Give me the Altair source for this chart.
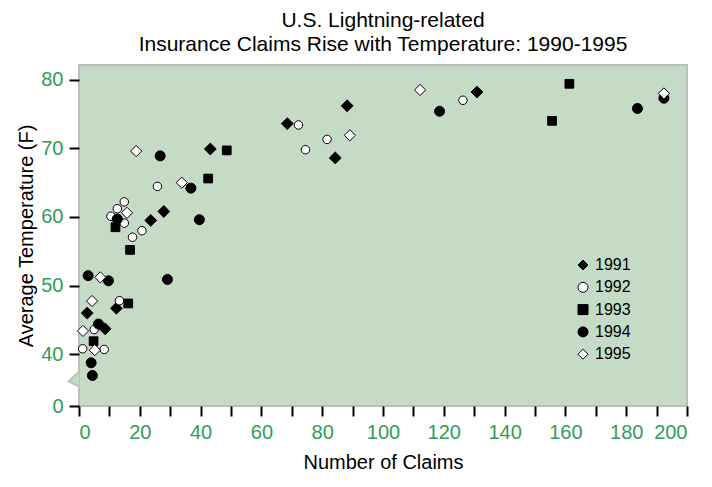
import altair as alt
import pandas as pd

# ---- data ----
years = ["1991", "1992", "1993", "1994", "1995"]

claims_1991 = [2.7, 8.6, 12.3, 23.6, 27.9, 43.2, 68.5, 84.3, 88.2, 130.9]
temp_1991 = [46.0, 43.7, 46.7, 59.5, 60.8, 69.9, 73.6, 68.6, 76.2, 78.2]

claims_1992 = [1.2, 5.0, 8.3, 13.3, 17.6, 20.7, 14.9, 10.5, 12.6, 14.9, 25.8, 72.2, 74.5, 81.6, 126.3]
temp_1992 = [40.8, 43.6, 40.7, 47.8, 57.05, 58.0, 59.1, 60.1, 61.2, 62.2, 64.45, 73.4, 69.8, 71.3, 77.0]

claims_1993 = [4.8, 16.2, 16.8, 12.0, 42.5, 48.6, 155.6, 161.3]
temp_1993 = [41.9, 47.4, 55.2, 58.5, 65.6, 69.7, 74.0, 79.4]

claims_1994 = [4.4, 4.0, 6.4, 3.0, 9.7, 29.1, 12.6, 39.6, 36.8, 26.7, 118.6, 183.7, 192.4]
temp_1994 = [36.9, 38.75, 44.4, 51.45, 50.7, 50.9, 59.7, 59.6, 64.2, 68.9, 75.4, 75.8, 77.3]

claims_1995 = [1.3, 5.2, 4.3, 7.0, 15.8, 33.8, 18.8, 89.1, 112.2, 192.4]
temp_1995 = [43.4, 40.6, 47.75, 51.2, 60.6, 65.0, 69.6, 71.9, 78.5, 78.0]

x_ticks = list(range(0, 201, 10))
y_ticks = [0, 40, 50, 60, 70, 80]

series = {
    "1991": (claims_1991, temp_1991),
    "1992": (claims_1992, temp_1992),
    "1993": (claims_1993, temp_1993),
    "1994": (claims_1994, temp_1994),
    "1995": (claims_1995, temp_1995),
}
rows = []
for yr in years:
    cx, ty = series[yr]
    for a, b in zip(cx, ty):
        rows.append({"Year": yr, "Claims": a, "Temp": b})
df = pd.DataFrame(rows)

# marker styling per year (style, not data)
shape_range = ["diamond", "circle", "square", "circle", "diamond"]
fill_range = ["black", "white", "black", "black", "white"]
stroke_range = ["black", "black", "black", "black", "black"]
marker_size = {"1991": 140, "1992": 72, "1993": 76, "1994": 100, "1995": 125}

GREEN_TXT = "#2e9d58"
BG = "#c5dbc6"
BORDER = "#bdbdbd"
FONT = "Liberation Sans"

W, H = 608, 341
PAD_L, PAD_T = 71, 57
PAD_R = 696 - PAD_L - W
PAD_B = 464 - PAD_T - H

x_enc = alt.X(
    "Claims:Q",
    scale=alt.Scale(domain=[0, 200], nice=False, zero=False),
    axis=alt.Axis(
        title="Number of Claims",
        values=x_ticks,
        labelExpr="datum.value % 20 == 0 ? datum.label : ''",
        labelOverlap=False,
        titleY=62,
        titleBaseline="alphabetic",
    ),
)
y_enc = alt.Y(
    "Temp:Q",
    scale=alt.Scale(domain=[0, 36, 82.14], range=[H, H * 0.9287, 0], nice=False, zero=False),
    axis=alt.Axis(
        title="Average Temperature (F)",
        values=y_ticks,
        labelOverlap=False,
        titleX=-47,
        titleY=H / 2,
        titleAngle=-90,
        titleAlign="center",
        titleBaseline="alphabetic",
    ),
)

legend = alt.Legend(
    title=None,
    orient="none",
    legendX=496,
    legendY=192,
    padding=0,
    labelFontSize=16,
    labelFont=FONT,
    labelColor="black",
    labelOffset=4,
    rowPadding=6.3,
    symbolStrokeColor="black",
    symbolStrokeWidth=1,
    symbolSize=100,
)

shape_enc = alt.Shape("Year:N", scale=alt.Scale(domain=years, range=shape_range), legend=legend)
fill_enc = alt.Fill("Year:N", scale=alt.Scale(domain=years, range=fill_range), legend=legend)
stroke_enc = alt.Stroke("Year:N", scale=alt.Scale(domain=years, range=stroke_range), legend=legend)

layers = []
# axis break marker on the left edge
notch = alt.Chart(pd.DataFrame({"k": [0]})).mark_point(
    shape="M0,-0.7L-1,0.23L0,0.7",
    filled=True,
    fill=BG,
    stroke=BORDER,
    strokeWidth=2,
    size=437,
    opacity=1,
).encode(x=alt.value(0), y=alt.value(H * 0.9212))
layers.append(notch)

for yr in years:
    layers.append(
        alt.Chart(df)
        .transform_filter(alt.datum.Year == yr)
        .mark_point(filled=True, strokeWidth=1, opacity=1, size=marker_size[yr])
        .encode(x=x_enc, y=y_enc, shape=shape_enc, fill=fill_enc, stroke=stroke_enc)
    )

chart = (
    alt.layer(*layers)
    .properties(
        width=W,
        height=H,
        title=alt.TitleParams(
            text=["U.S. Lightning-related", "Insurance Claims Rise with Temperature: 1990-1995"],
            fontSize=21,
            font=FONT,
            fontWeight="normal",
            color="black",
            lineHeight=24,
            anchor="middle",
            offset=10,
        ),
        autosize=alt.AutoSizeParams(type="none"),
        padding={"left": PAD_L, "top": PAD_T, "right": PAD_R, "bottom": PAD_B},
    )
    .configure_view(fill=BG, stroke=BORDER, strokeWidth=2)
    .configure_legend(symbolStrokeColor="black", symbolStrokeWidth=1)
    .configure_axis(
        grid=False,
        domain=False,
        tickColor="black",
        tickWidth=2,
        tickSize=10,
        labelColor=GREEN_TXT,
        labelFont=FONT,
        labelFontSize=20,
        labelPadding=6,
        titleFont=FONT,
        titleFontSize=20,
        titleFontWeight="normal",
        titleColor="black",
    )
)

chart.save("out.html", embed_options={"renderer": "svg", "actions": False})
